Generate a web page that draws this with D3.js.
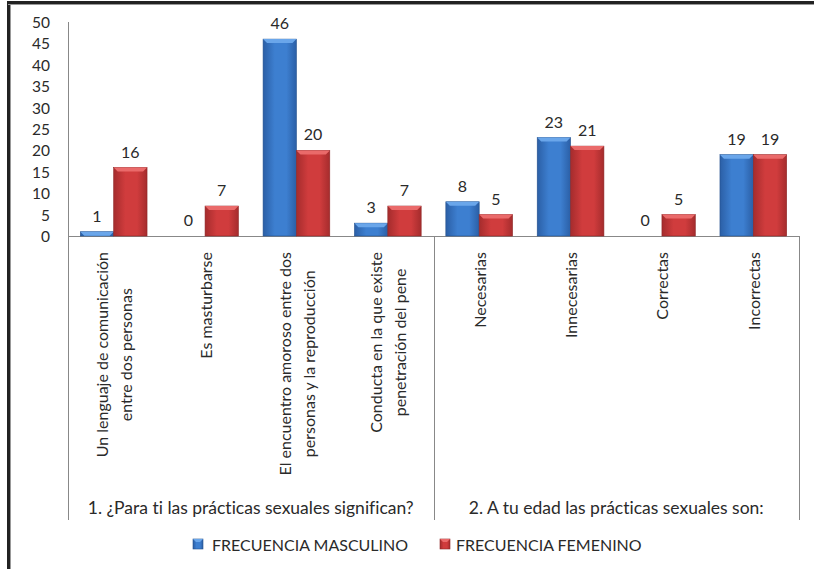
<!DOCTYPE html>
<html>
<head>
<meta charset="utf-8">
<script src="https://cdn.jsdelivr.net/npm/d3@7"></script>
<style>
  html, body { margin: 0; padding: 0; background: #fff; }
  svg { display: block; }
  text { font-family: Lato, "Open Sans", sans-serif; fill: #2a2a2a; font-variant-ligatures: none; }
</style>
</head>
<body>
<svg id="chart" width="814" height="569"></svg>
<script>
// ---- data ----
const categories = [
  ["Un lenguaje de comunicación", "entre dos personas"],
  ["Es masturbarse"],
  ["El encuentro amoroso entre dos", "personas y la reproducción"],
  ["Conducta en la que existe", "penetración del pene"],
  ["Necesarias"],
  ["Innecesarias"],
  ["Correctas"],
  ["Incorrectas"]
];
const groups = ["1. ¿Para ti las prácticas sexuales significan?", "2. A tu edad las prácticas sexuales son:"];
const groupSizes = [4, 4];
const masculino = [1, 0, 46, 3, 8, 23, 0, 19];
const femenino = [16, 7, 20, 7, 5, 21, 5, 19];
const seriesNames = ["FRECUENCIA MASCULINO", "FRECUENCIA FEMENINO"];
const yTicks = [0, 5, 10, 15, 20, 25, 30, 35, 40, 45, 50];

// ---- layout ----
const svg = d3.select("#chart");
const plot = { left: 68, right: 799, top: 22, bottom: 236 };
const catBottom = 520;

// frame
svg.append("line").attr("x1", 8).attr("x2", 814).attr("y1", 2.5).attr("y2", 2.5)
  .attr("stroke", "#222").attr("stroke-width", 3);
svg.append("line").attr("x1", 8.5).attr("x2", 8.5).attr("y1", 1).attr("y2", 569)
  .attr("stroke", "#222").attr("stroke-width", 3);
svg.append("line").attr("x1", 10.5).attr("x2", 10.5).attr("y1", 4).attr("y2", 569)
  .attr("stroke", "#999").attr("stroke-width", 1);
svg.append("line").attr("x1", 8).attr("x2", 814).attr("y1", 4.5).attr("y2", 4.5)
  .attr("stroke", "#999").attr("stroke-width", 1);

const idx = d3.range(categories.length);
const x = d3.scaleBand().domain(idx).range([plot.left, plot.right]).paddingInner(0).paddingOuter(0);
const y = d3.scaleLinear().domain([0, 50]).range([plot.bottom, plot.top]);
const barW = x.bandwidth() * 0.365;

// gradients
const defs = svg.append("defs");
function grad(id, edge, mid) {
  const g = defs.append("linearGradient").attr("id", id).attr("x1", 0).attr("x2", 1).attr("y1", 0).attr("y2", 0);
  g.append("stop").attr("offset", "0%").attr("stop-color", edge);
  g.append("stop").attr("offset", "35%").attr("stop-color", mid);
  g.append("stop").attr("offset", "70%").attr("stop-color", mid);
  g.append("stop").attr("offset", "100%").attr("stop-color", edge);
}
grad("gBlue", "#2b5fa6", "#3d7fd0");
grad("gRed", "#a52c2d", "#d03c3d");
const colors = [
  { fill: "url(#gBlue)", top: "#6aa6ea", edge: "#24508c" },
  { fill: "url(#gRed)", top: "#ea6a6a", edge: "#8e2526" }
];

// y axis
const yAxis = svg.append("g");
yAxis.append("line").attr("x1", plot.left + 0.5).attr("x2", plot.left + 0.5)
  .attr("y1", plot.top).attr("y2", catBottom).attr("stroke", "#888");
yAxis.selectAll("text.tick").data(yTicks).join("text")
  .attr("class", "tick")
  .attr("x", 50).attr("y", d => y(d))
  .attr("text-anchor", "end").attr("dominant-baseline", "central")
  .attr("font-size", 15.5).text(d => d);

// baseline and group dividers
svg.append("line").attr("x1", plot.left).attr("x2", plot.right)
  .attr("y1", plot.bottom + 0.5).attr("y2", plot.bottom + 0.5).attr("stroke", "#888");
let acc = 0;
groupSizes.forEach((n, i) => {
  const x0 = x(acc);
  acc += n;
  const x1 = acc < categories.length ? x(acc) : plot.right;
  svg.append("line").attr("x1", Math.round(x1) + 0.5).attr("x2", Math.round(x1) + 0.5)
    .attr("y1", plot.bottom).attr("y2", catBottom).attr("stroke", "#888");
  svg.append("text").attr("x", (x0 + x1) / 2).attr("y", 507)
    .attr("text-anchor", "middle").attr("dominant-baseline", "central")
    .attr("font-size", 17.5).text(groups[i]);
});

// bars
const series = [masculino, femenino];
series.forEach((vals, s) => {
  const g = svg.append("g");
  const bx = i => x(i) + x.bandwidth() / 2 - barW + s * barW;
  g.selectAll("rect.bar").data(vals).join("rect")
    .attr("class", "bar")
    .attr("x", (d, i) => bx(i)).attr("width", barW)
    .attr("y", d => y(d)).attr("height", d => y(0) - y(d))
    .attr("fill", colors[s].fill)
    .attr("stroke", colors[s].edge).attr("stroke-width", 0.6)
    .attr("display", d => d > 0 ? null : "none");
  g.selectAll("path.bevel").data(vals).join("path")
    .attr("class", "bevel")
    .attr("d", (d, i) => {
      const x0 = bx(i), y0 = y(d), h = Math.min(4, y(0) - y(d));
      return `M${x0},${y0}L${x0 + barW},${y0}L${x0 + barW - 4},${y0 + h}L${x0 + 4},${y0 + h}Z`;
    })
    .attr("fill", colors[s].top)
    .attr("display", d => d > 0 ? null : "none");
  g.selectAll("text.val").data(vals).join("text")
    .attr("class", "val")
    .attr("x", (d, i) => bx(i) + barW / 2)
    .attr("y", d => y(d) - 10)
    .attr("text-anchor", "middle")
    .attr("font-size", 16).text(d => d);
});

// category labels (rotated, multi-line centred)
const labelTop = 252;
const lineGap = 24;
categories.forEach((lines, i) => {
  const cx = x(i) + x.bandwidth() / 2;
  const g = svg.append("g");
  const texts = lines.map(t => g.append("text")
    .attr("font-size", 16)
    .attr("text-anchor", "middle")
    .attr("dominant-baseline", "central")
    .text(t));
  const maxLen = d3.max(texts, t => t.node().getComputedTextLength());
  const cy = labelTop + maxLen / 2;
  texts.forEach((t, k) => {
    const lx = cx + (k - (lines.length - 1) / 2) * lineGap;
    t.attr("transform", `translate(${lx},${cy}) rotate(-90)`);
  });
});

// legend
const legend = svg.append("g");
const legendItems = [{ x: 193, tx: 212, name: seriesNames[0] }, { x: 440, tx: 456, name: seriesNames[1] }];
legendItems.forEach((it, s) => {
  legend.append("rect").attr("x", it.x).attr("y", 539).attr("width", 10).attr("height", 10)
    .attr("fill", colors[s].fill).attr("stroke", colors[s].edge).attr("stroke-width", 0.6);
  legend.append("path")
    .attr("d", `M${it.x},539L${it.x + 10},539L${it.x + 7},542L${it.x + 3},542Z`)
    .attr("fill", colors[s].top);
  legend.append("text").attr("x", it.tx).attr("y", 544.5)
    .attr("dominant-baseline", "central").attr("font-size", 16).text(it.name);
});
</script>
</body>
</html>
